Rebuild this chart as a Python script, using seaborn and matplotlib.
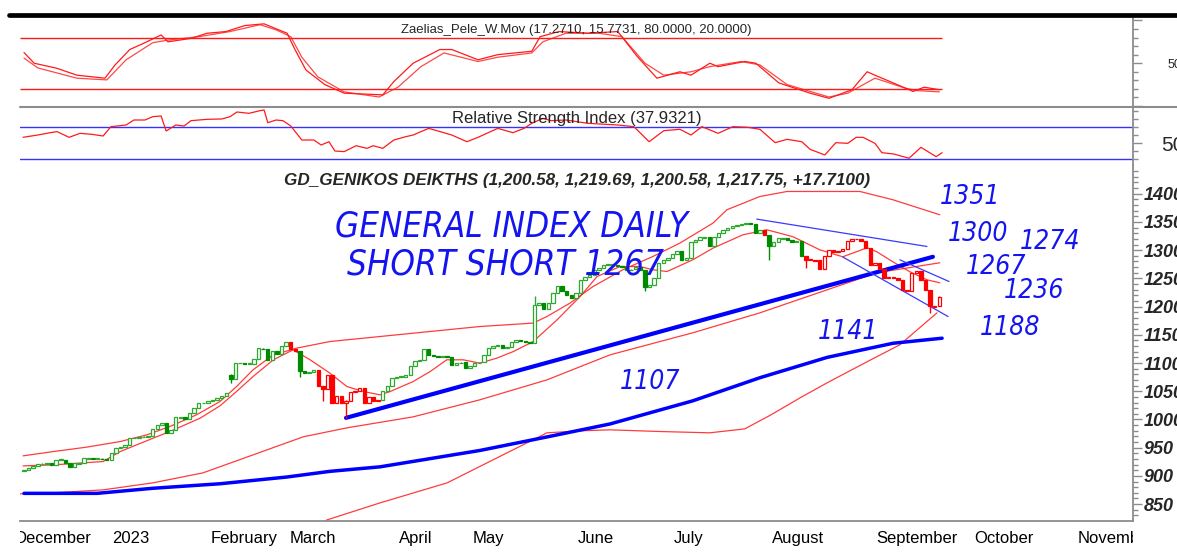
import numpy as np
import matplotlib
matplotlib.use("Agg")
import matplotlib.pyplot as plt
import seaborn as sns
from matplotlib.transforms import Bbox, TransformedBbox
from matplotlib.lines import Line2D
from matplotlib.ticker import FixedLocator, NullFormatter, FixedFormatter

# ---------------- data ----------------
closes = [911, 914, 918, 921, 922, 922, 920, 929, 929, 923,
          916, 922, 923, 931, 932, 931, 931, 930, 929, 940,
          949, 952, 955, 967, 968, 969, 970, 971, 983, 990,
          993, 976, 982, 1004, 1004, 1000, 1012, 1020, 1029, 1030,
          1032, 1035, 1038, 1041, 1047, 1071, 1100, 1100, 1099, 1099,
          1107, 1126, 1125, 1106, 1122, 1116, 1131, 1138, 1124, 1122,
          1085, 1083, 1084, 1088, 1060, 1054, 1079, 1030, 1041, 1030,
          1032, 1049, 1051, 1055, 1029, 1039, 1032, 1034, 1050, 1060,
          1073, 1076, 1076, 1079, 1095, 1103, 1106, 1125, 1115, 1113,
          1112, 1112, 1110, 1097, 1100, 1101, 1091, 1095, 1100, 1101,
          1115, 1126, 1130, 1132, 1126, 1128, 1138, 1141, 1139, 1138,
          1135, 1203, 1206, 1196, 1206, 1224, 1237, 1227, 1221, 1215,
          1224, 1247, 1253, 1256, 1265, 1268, 1274, 1274, 1274, 1272,
          1270, 1265, 1266, 1270, 1265, 1234, 1239, 1250, 1277, 1283,
          1286, 1294, 1298, 1283, 1286, 1315, 1318, 1323, 1324, 1307,
          1324, 1331, 1336, 1339, 1342, 1345, 1347, 1348, 1347, 1330,
          1336, 1327, 1308, 1315, 1321, 1321, 1318, 1315, 1317, 1289,
          1283, 1283, 1282, 1266, 1289, 1301, 1296, 1299, 1302, 1317,
          1320, 1320, 1316, 1304, 1274, 1277, 1266, 1250, 1253, 1250,
          1247, 1230, 1227, 1259, 1264, 1247, 1230, 1201, 1200, 1217.75]
opens = [908, 911, 914, 918, 921, 922, 922, 920, 929, 929,
         923, 916, 922, 923, 931, 932, 931, 931, 930, 929,
         940, 949, 952, 955, 967, 968, 969, 970, 971, 983,
         990, 993, 976, 982, 1004, 1004, 1000, 1012, 1020, 1029,
         1030, 1032, 1035, 1038, 1041, 1078, 1071, 1100, 1100, 1099,
         1099, 1107, 1126, 1125, 1106, 1122, 1116, 1131, 1138, 1124,
         1122, 1085, 1083, 1084, 1088, 1060, 1054, 1079, 1030, 1041,
         1030, 1032, 1049, 1051, 1055, 1029, 1039, 1032, 1034, 1050,
         1060, 1073, 1076, 1076, 1079, 1095, 1103, 1106, 1125, 1115,
         1113, 1112, 1112, 1110, 1097, 1100, 1101, 1091, 1095, 1100,
         1101, 1115, 1126, 1130, 1132, 1126, 1128, 1138, 1141, 1139,
         1138, 1135, 1203, 1206, 1196, 1206, 1224, 1237, 1227, 1221,
         1215, 1224, 1247, 1253, 1256, 1265, 1268, 1274, 1274, 1274,
         1272, 1270, 1265, 1266, 1270, 1265, 1234, 1239, 1250, 1277,
         1283, 1286, 1294, 1298, 1283, 1286, 1315, 1318, 1323, 1324,
         1307, 1324, 1331, 1336, 1339, 1342, 1345, 1347, 1348, 1347,
         1330, 1336, 1327, 1308, 1315, 1321, 1321, 1318, 1315, 1317,
         1289, 1283, 1283, 1282, 1266, 1289, 1301, 1296, 1299, 1302,
         1317, 1320, 1320, 1316, 1304, 1274, 1277, 1266, 1250, 1253,
         1250, 1247, 1230, 1227, 1259, 1264, 1247, 1230, 1201, 1200.58]
red_ranges = [(58, 59), (64, 77), (161, 161), (170, 199)]
wick_idx = [45, 60, 65, 70, 111, 135, 162, 170, 197, 199]
wick_low = [1064, 1076, 1032, 1002, 1135, 1228, 1283, 1268, 1189, 1200.58]
wick_high = [1080, 1122, 1060, 1034, 1219, 1265, 1327, 1289, 1230, 1219.69]

# long moving average (thick blue)
lma_x = [0, 15.9, 28, 42.6, 57.2, 66.5, 77.4, 99.1, 113.7, 127.4, 145.4, 160, 174.6,
         188.9, 199.6]
lma_y = [869, 869, 878, 886, 898, 908, 916, 945, 969, 992, 1033, 1074, 1110, 1135, 1144]
# bands
ub_x = [-0.2, 6.4, 13.6, 20.9, 26.7, 31.7, 37.5, 42.6, 46.2, 49.8, 54.2, 59.3, 66.5, 77.4,
        88.3, 99.1, 110.7, 113.7, 118.7, 123.7, 130.2, 136.7, 142.6, 149.8, 152.8, 160,
        165.9, 181.7, 188.9, 199.1]
ub_y = [935.5, 943.1, 950.9, 960.8, 972.7, 987.4, 1008.2, 1031.7, 1058.3, 1088, 1114.5,
        1126.4, 1138.1, 1147, 1155.9, 1164.7, 1170.8, 1182.5, 1206.2, 1235.6, 1265.3,
        1288.8, 1312.6, 1348.1, 1371.6, 1395.2, 1404.1, 1404.1, 1389.4, 1362.8]
mb_x = [-0.9, 6.3, 17.2, 28, 38.9, 49.8, 60.7, 70.2, 84.6, 99.1, 113.7, 127.4, 145.4,
        160, 174.6, 185.4, 199.1]
mb_y = [868.1, 869.9, 875.2, 887.6, 905.3, 937.2, 969.2, 985.1, 1004.6, 1034.8, 1070.2,
        1114.5, 1153.6, 1189, 1229.8, 1259.9, 1277.7]
lb_x = [57.8, 65.9, 77.4, 92, 106.3, 113.7, 120.9, 127.4, 138.3, 149.1, 156.7, 162.4,
        169.1, 175, 184.1, 190.4, 198.5]
lb_y = [777.7, 822, 852.1, 887.6, 946.1, 976.3, 979.8, 981.6, 978.6, 976.3, 983.3,
        1008.2, 1040.1, 1066.7, 1105.7, 1132.3, 1189]
sma_x = [-0.2, 6.4, 17.2, 20.9, 28.1, 31.7, 38.3, 42.6, 46.2, 49.8, 54.2, 58.5, 62.2,
         66.5, 70.2, 73.8, 77.4, 79.6, 84.6, 88.3, 91.9, 95.5, 99.1, 102.8, 106.4, 110.7,
         115.9, 120.9, 124.6, 129.6, 133.9, 136.7, 139.8, 145.4, 149.8, 156.3, 161.5,
         167.2, 173, 178, 183.3, 185.4, 188.9, 192.6, 196.3, 199.1]
sma_y = [917.7, 919.5, 925.4, 943.1, 966.9, 978.6, 1002.3, 1024.1, 1049.5, 1076.1,
         1105.7, 1123.4, 1105.7, 1082.1, 1058.3, 1049.5, 1043.6, 1049.5, 1067.2, 1084.9,
         1105.7, 1105.7, 1099.8, 1108.7, 1120.4, 1138.1, 1176.6, 1217.9, 1253.4, 1271.1,
         1271.1, 1265.3, 1262.2, 1283, 1303.7, 1327.3, 1336.2, 1323.8, 1300.7, 1288.3,
         1304.3, 1297.2, 1279.4, 1261.7, 1247.5, 1242.2]
# drawn trend lines
trend_x = [70, 197.6]
trend_y = [1002.8, 1288.3]
chan_up_x = [159.3, 196.3]
chan_up_y = [1355.1, 1306.6]
chan_lo_x = [178, 200.9]
chan_lo_y = [1288, 1182.4]
chan_up2_x = [190.4, 201.1]
chan_up2_y = [1283, 1244.5]

# Zaelias_Pele_W.Mov oscillator
zf_x = [0, 2.2, 7.2, 11.5, 17.6, 19.8, 23, 26.3, 29.8, 31.3, 36.3, 39.8, 43.9, 48, 52.2,
        57.2, 58.9, 61.3, 65.4, 69.6, 78, 80.4, 84.6, 90.4, 93, 98.7, 103, 110.4, 112.2,
        116.3, 122.8, 129.1, 133.3, 137.6, 142.6, 145, 149.1, 150.9, 156.7, 159.1, 164.1,
        170.9, 175, 180, 183.3, 185, 188.3, 193.3, 195.7, 199]
zf_y = [62.5, 50, 44, 36, 32.5, 48, 66, 74, 83, 75, 79, 85, 87, 94, 96, 85, 66, 42, 25,
        15, 13, 28.5, 50, 66, 66, 54, 60, 64, 81, 87, 85, 87, 58, 32.5, 40, 36, 50, 46, 52,
        50, 27, 15, 9, 19, 40, 36, 28.5, 17, 22, 19]
zs_x = [0, 3.0, 11.5, 18.0, 22.2, 28.0, 31.3, 38.0, 44.8, 51.3, 54.8, 58.0, 60.4, 63.9,
        69.6, 77.2, 81.3, 86.3, 91.3, 98.7, 103, 110.4, 112.8, 117.8, 125, 130, 135, 139.1,
        145, 149.1, 155.9, 160, 165.9, 175, 179.1, 185, 191.5, 194.1, 199]
zs_y = [56, 44.5, 32.5, 30.5, 54, 74, 77, 81, 87, 95, 89, 81, 57, 34, 16.5, 10.5, 22, 46,
        62, 52, 57, 62, 75, 85, 85, 81, 50, 36, 40, 46, 52, 48, 25, 10.5, 15, 32.5, 21, 18,
        16.5]
zaelias_levels = [80, 20]

# Relative Strength Index
rsi_x = [-0.2, 3.0, 5.7, 7.2, 9.8, 12.2, 14.8, 17.2, 18.9, 22.2, 23.9, 26.3, 28, 29.8,
         30.9, 33, 34.8, 36.3, 39.8, 43, 44.8, 46.3, 48.9, 51.3, 52.2, 53, 54.8, 56.3, 58,
         60.4, 63, 64.6, 66.3, 67.6, 69.6, 72.2, 74.6, 75.9, 78, 80.4, 83, 84.6, 88, 93,
         96.3, 98.7, 103, 106.3, 108.7, 110.4, 112.8, 114.6, 117.8, 122.6, 129.1, 132.6,
         135.9, 139.1, 142.6, 145, 147.4, 150.9, 154.1, 157.4, 160, 163.3, 165.9, 169.1,
         170.9, 174.1, 176.5, 179.1, 180.9, 182.4, 185, 186.5, 189.1, 192.4, 195, 198.3,
         199.6]
rsi_y = [57.1, 60, 62.9, 64.2, 57.1, 62.1, 60.8, 58.75, 70.4, 72.5, 78.75, 78.75, 82.9,
         83.75, 65, 72.5, 71.25, 77.9, 79.6, 80, 82.9, 88.75, 87.1, 90.4, 91.25, 75.4,
         78.75, 77.9, 71.25, 53.75, 53.75, 47.5, 51.6, 40, 39.2, 46.6, 43.3, 46.6, 43.3,
         53.75, 57.9, 60, 68.3, 60, 51.6, 57.1, 68.3, 62.9, 68.3, 74.6, 80.8, 77.9, 78.75,
         74.6, 72.5, 70.4, 51.6, 65.4, 67.1, 60, 70.4, 62.1, 70.4, 69.6, 67.1, 50.4, 54.6,
         51.6, 42.1, 35, 50.4, 49.6, 57.1, 57.1, 49.6, 37.9, 36.25, 30.9, 44.6, 32.9, 37.9]
rsi_levels = [70, 30]

# hand-written notes (text, x index, value)
note_text = ["GENERAL INDEX DAILY", "SHORT SHORT 1267", "1351", "1300", "1274", "1267",
             "1236", "1188", "1141", "1107"]
note_x = [105.9, 104.6, 205.7, 207.4, 223, 211.3, 219.6, 214.3, 179.1, 136.1]
note_y = [1341.5, 1274.1, 1394.7, 1329.1, 1314.9, 1270.6, 1228, 1162.4, 1155.3, 1066.7]
note_size = [25, 25, 19, 19, 19, 19, 19, 19, 19, 19]

month_names = ["December", "2023", "February", "March", "April", "May", "June", "July",
               "August", "September", "October", "November"]
month_start = [-2.6, 18.7, 40.2, 57.2, 81.1, 97.0, 120.0, 140.9, 162.2, 184.8, 206.1, 228.7]
price_ticks = [850, 900, 950, 1000, 1050, 1100, 1150, 1200, 1250, 1300, 1350, 1400]

title_main = "GD_GENIKOS DEIKTHS (1,200.58, 1,219.69, 1,200.58, 1,217.75, +17.7100)"
title_z = "Zaelias_Pele_W.Mov (17.2710, 15.7731, 80.0000, 20.0000)"
title_r = "Relative Strength Index (37.9321)"

# ---------------- figure ----------------
sns.set_style("white")
plt.rcParams["font.family"] = ["Liberation Sans", "DejaVu Sans"]

W, H = 1177, 560
fig = plt.figure(figsize=(W / 100, H / 100), dpi=100)
L, R = 20, 1133
ax_z = fig.add_axes([L / W, 1 - 106 / H, (R - L) / W, 89 / H])
ax_r = fig.add_axes([L / W, 1 - 165 / H, (R - L) / W, 58 / H])
ax_m = fig.add_axes([L / W, 1 - 521 / H, (R - L) / W, 356 / H])

n = len(closes)
xmin, xmax = -0.87, 241.1
GRAY = "#8c8c8c"
RED = "#ff1a1a"
BLUE = "#0000ff"

for ax in (ax_z, ax_r, ax_m):
    ax.set_xlim(xmin, xmax)
    ax.set_facecolor("white")
    for s in ("left", "top"):
        ax.spines[s].set_visible(False)
    ax.spines["right"].set_color(GRAY)
    ax.spines["right"].set_linewidth(1.3)
    ax.yaxis.tick_right()
    ax.tick_params(axis="y", which="both", direction="out", color=GRAY, width=1.0)
    ax.tick_params(axis="y", which="major", length=6.5)
    ax.tick_params(axis="y", which="minor", length=3.5)

for ax in (ax_z, ax_r):
    ax.spines["bottom"].set_visible(False)
    ax.set_xticks([])

# ---- Zaelias panel ----
ax_z.set_ylim(0, 104)
sns.lineplot(x=zs_x, y=zs_y, ax=ax_z, color=RED, linewidth=0.9, alpha=0.8,
             estimator=None, sort=False, legend=False)
sns.lineplot(x=zf_x, y=zf_y, ax=ax_z, color=RED, linewidth=0.9,
             estimator=None, sort=False, legend=False)
ax_z.hlines(zaelias_levels, xmin, n - 0.5, colors=RED, linewidth=1.0)
ax_z.yaxis.set_major_locator(FixedLocator([0, 50, 100]))
ax_z.yaxis.set_major_formatter(FixedFormatter(["", "50", ""]))
ax_z.yaxis.set_minor_locator(FixedLocator([10, 20, 30, 40, 60, 70, 80, 90]))
ax_z.tick_params(axis="y", which="major", labelsize=9, pad=18)
ax_z.set_xlabel("")
ax_z.set_ylabel("")

# ---- RSI panel ----
ax_r.set_ylim(22.5, 95)
for lv in rsi_levels:
    ax_r.axhline(lv, color="#3333ff", linewidth=1.0)
sns.lineplot(x=rsi_x, y=rsi_y, ax=ax_r, color=RED, linewidth=0.9,
             estimator=None, sort=False, legend=False)
ax_r.yaxis.set_major_locator(FixedLocator([50]))
ax_r.yaxis.set_major_formatter(FixedFormatter(["50"]))
ax_r.yaxis.set_minor_locator(FixedLocator([30, 40, 60, 70, 80, 90]))
ax_r.tick_params(axis="y", which="major", labelsize=15, pad=14)
ax_r.set_xlabel("")
ax_r.set_ylabel("")

# ---- main price panel ----
ax_m.set_ylim(820, 1451)
ax_m.spines["bottom"].set_color(GRAY)
ax_m.spines["bottom"].set_linewidth(1.3)

line_kw = dict(estimator=None, sort=False, legend=False, ax=ax_m)
sns.lineplot(x=lb_x, y=lb_y, color=RED, linewidth=0.9, alpha=0.85, **line_kw)
sns.lineplot(x=mb_x, y=mb_y, color=RED, linewidth=0.9, alpha=0.85, **line_kw)
sns.lineplot(x=ub_x, y=ub_y, color=RED, linewidth=0.9, alpha=0.85, **line_kw)
sns.lineplot(x=sma_x, y=sma_y, color=RED, linewidth=0.9, alpha=0.85, **line_kw)
sns.lineplot(x=lma_x, y=lma_y, color=BLUE, linewidth=2.5, **line_kw)
sns.lineplot(x=trend_x, y=trend_y, color=BLUE, linewidth=3.0, **line_kw)
for cx, cy in ((chan_up_x, chan_up_y), (chan_lo_x, chan_lo_y), (chan_up2_x, chan_up2_y)):
    sns.lineplot(x=cx, y=cy, color="#3a3aff", linewidth=0.9, **line_kw)

# candles
xs = np.arange(n)
o = np.array(opens, dtype=float)
c = np.array(closes, dtype=float)
hi = np.maximum(o, c)
lo = np.minimum(o, c)
for k, i in enumerate(wick_idx):
    hi[i] = max(hi[i], wick_high[k])
    lo[i] = min(lo[i], wick_low[k])
is_red = np.zeros(n, dtype=bool)
for a, b in red_ranges:
    is_red[a:b + 1] = True
up = c >= o
edge = np.where(is_red, "#ff0000", np.where(up, "#2fa82f", "#008a00"))
face = np.where(up, "white", np.where(is_red, "#ff0000", "#008a00"))
body_h = np.maximum(np.abs(c - o), 1.4)
body_b = np.minimum(o, c) - np.where(np.abs(c - o) < 1.4, 0.7, 0)
ax_m.vlines(xs, lo, hi, colors=edge, linewidth=1.0, zorder=4)
ax_m.bar(xs, body_h, bottom=body_b, width=0.74, color=face, edgecolor=edge,
         linewidth=0.9, zorder=5)

# y axis
ax_m.yaxis.set_major_locator(FixedLocator(price_ticks))
ax_m.yaxis.set_minor_locator(FixedLocator([v for v in range(830, 1450, 10) if v % 50]))
ax_m.yaxis.set_major_formatter(FixedFormatter([str(v) for v in price_ticks]))
ax_m.tick_params(axis="y", which="major", pad=1)
for t in ax_m.get_yticklabels():
    t.set_fontsize(13)
    t.set_fontweight("bold")
    t.set_fontstyle("italic")
ax_m.set_ylabel("")
ax_m.set_xlabel("")

# x axis: weekly minor ticks + long month separators
vis_months = [m for m in month_start if xmin <= m <= xmax]
ax_m.xaxis.set_major_locator(FixedLocator(vis_months))
ax_m.xaxis.set_major_formatter(NullFormatter())
ax_m.xaxis.set_minor_locator(FixedLocator(list(np.arange(0.6, xmax, 5.0))))
ax_m.tick_params(axis="x", which="major", direction="out", length=19.5, width=1.3,
                 color=GRAY)
ax_m.tick_params(axis="x", which="minor", direction="out", length=4.5, width=1.0,
                 color=GRAY)

fig.canvas.draw()
clip = TransformedBbox(Bbox([[0, -1], [1, 1]]), ax_m.transAxes)
for name, pos in zip(month_names, month_start):
    t = ax_m.annotate(name, xy=(pos, 0), xycoords=("data", "axes fraction"),
                      xytext=(1.5, -12.5), textcoords="offset points",
                      ha="left", va="center", fontsize=12, color="black",
                      annotation_clip=False)
    t.set_clip_path(None)
    t.set_clip_box(clip)
    t.set_clip_on(True)

# notes
for txt, nx, ny, fs in zip(note_text, note_x, note_y, note_size):
    ax_m.text(nx, ny, txt, ha="center", va="center", fontsize=fs, color="#1414f0",
              family="DejaVu Sans", style="italic", fontstretch="condensed",
              clip_on=False, zorder=7)

# titles
fig.text(576 / W, 1 - 30 / H, title_z, ha="center", va="center", fontsize=9.5)
fig.text(577 / W, 1 - 119 / H, title_r, ha="center", va="center", fontsize=12)
fig.text(577 / W, 1 - 180 / H, title_main, ha="center", va="center", fontsize=12.3,
         fontweight="bold", fontstyle="italic")

# panel separators
fig.add_artist(Line2D([9 / W, 1], [1 - 14.5 / H] * 2, color="black", linewidth=3.4))
fig.add_artist(Line2D([L / W, 1], [1 - 106.5 / H] * 2, color=GRAY, linewidth=1.5))

fig.savefig("out.png", dpi=100, facecolor="white")
